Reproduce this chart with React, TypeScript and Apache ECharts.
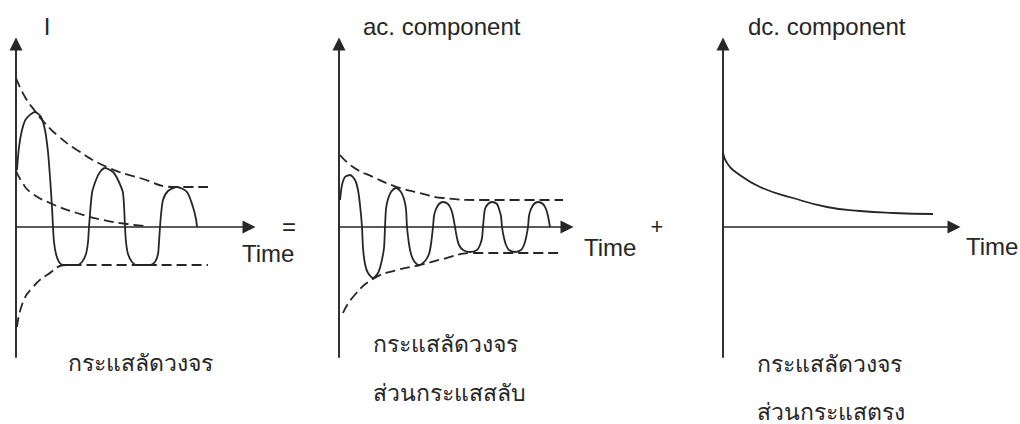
import React, { useEffect, useRef } from "react";
import * as echarts from "echarts";

// Panel 1 – total short-circuit current I (time, current)
const totalCurrent = [
  [1, 57], [3, 80], [6, 97], [10, 108], [19, 115], [25, 110], [29, 97], [32, 75], [34, 50], [36, 20], [37, 0],
  [38, -15], [40, -27], [43, -35], [47, -38], [61, -38], [66, -35], [70, -27], [72, -15], [73, 0],
  [76, 34], [80, 47], [84, 55], [89, 59], [97, 55], [102, 47], [107, 34], [109, 0],
  [110, -15], [112, -27], [116, -35], [121, -38], [134, -38], [139, -35], [142, -27], [143, -15], [144, 0],
  [145, 12], [147, 27], [152, 36], [161, 40], [171, 35], [177, 20], [180, 8], [181, 0],
];
const totalUpperEnvelope = [
  [0, 149], [9, 130], [19, 116], [27, 106], [41, 92], [61, 77], [91, 60], [124, 49], [159, 40], [192, 40],
];
const totalDcOffset = [
  [0, 56], [6, 45], [14, 35], [34, 24], [61, 14], [87, 7], [111, 3], [129, 1],
];
const totalLowerEnvelope = [
  [1, -100], [7, -75], [17, -60], [31, -48], [51, -38], [192, -38],
];

// Panel 2 – ac component
const acCurrent = [
  [1, 27], [3, 42], [6, 50], [11, 52], [16, 47], [19, 37], [21, 22], [23, 0],
  [24, -21], [26, -37], [29, -46], [34, -51], [39, -46], [42, -37], [45, -21], [46, 0],
  [47, 18], [49, 28], [52, 35], [57, 39], [62, 35], [65, 28], [67, 18], [68, 0],
  [70, -17], [72, -27], [75, -34], [80, -38], [86, -34], [90, -27], [92, -17], [94, 0],
  [95, 11], [97, 18], [100, 23], [104, 25], [109, 23], [112, 18], [114, 11], [116, 0],
  [118, -11], [120, -18], [124, -23], [131, -25], [138, -23], [141, -18], [143, -11], [144, 0],
  [145, 11], [146, 18], [149, 23], [153, 25], [158, 23], [160, 18], [162, 11], [163, 0],
  [165, -11], [167, -18], [170, -23], [176, -25], [182, -23], [185, -18], [187, -11], [189, 0],
  [190, 11], [192, 18], [195, 23], [199, 25], [204, 23], [207, 18], [209, 11], [211, 0],
];
const acUpperEnvelope = [
  [1, 72], [14, 60], [34, 50], [58, 40], [81, 34], [104, 29], [144, 27], [224, 27],
];
const acLowerEnvelope = [
  [4, -86], [14, -70], [34, -52], [58, -43], [81, -38], [104, -32], [133, -26], [224, -26],
];

// Panel 3 – dc component
const dcCurrent = [
  [0, 74], [4, 64], [14, 54], [37, 40], [70, 29], [104, 20], [137, 16], [170, 14], [210, 13],
];

// Axis ranges per panel
const timeMax = [233, 228, 231];
const currentMin = -130;
const currentMax = 183;

// Labels
const axisTitles = ["I", "ac. component", "dc. component"];
const timeLabel = "Time";
const panelCaptions = [
  ["กระแสลัดวงจร"],
  ["กระแสลัดวงจร", "ส่วนกระแสสลับ"],
  ["กระแสลัดวงจร", "ส่วนกระแสตรง"],
];

const INK = "#262626";
const FONT = "'Liberation Sans', Arial, 'Noto Sans', sans-serif";

export default function App() {
  const ref = useRef<HTMLDivElement>(null);

  useEffect(() => {
    if (!ref.current) return;
    const chart = echarts.init(ref.current, null, { renderer: "svg" });

    const grids = [
      { left: 16, top: 44, width: 233, height: 313 },
      { left: 339, top: 44, width: 228, height: 313 },
      { left: 723, top: 44, width: 231, height: 313 },
    ];

    const axisLine = {
      show: true,
      onZero: true,
      symbol: ["none", "triangle"],
      symbolSize: [13, 13],
      lineStyle: { color: INK, width: 1.6 },
    };

    const xAxes = grids.map((_, i) => ({
      type: "value",
      gridIndex: i,
      min: 0,
      max: timeMax[i],
      axisLine,
      axisTick: { show: false },
      axisLabel: { show: false },
      splitLine: { show: false },
    }));
    const yAxes = grids.map((_, i) => ({
      type: "value",
      gridIndex: i,
      min: currentMin,
      max: currentMax,
      axisLine: { ...axisLine, lineStyle: { color: INK, width: 1.9 } },
      axisTick: { show: false },
      axisLabel: { show: false },
      splitLine: { show: false },
    }));

    const solid = { color: INK, width: 1.8, type: "solid" };
    const dashed = { color: INK, width: 1.8, type: [10, 5] };
    const mk = (data: number[][], idx: number, style: any, smooth: number) => ({
      type: "line",
      xAxisIndex: idx,
      yAxisIndex: idx,
      data,
      smooth,
      symbol: "none",
      showSymbol: false,
      silent: true,
      lineStyle: style,
    });

    const text = (t: string, x: number, y: number, size: number, align = "left") => ({
      type: "text",
      x,
      y,
      silent: true,
      style: {
        text: t,
        fill: INK,
        fontSize: size,
        fontFamily: FONT,
        textAlign: align,
        textVerticalAlign: "middle",
      },
    });

    const graphics: any[] = [
      text(axisTitles[0], 47, 26, 24, "center"),
      text(axisTitles[1], 363, 26, 24),
      text(axisTitles[2], 748, 26, 24),
      text(timeLabel, 242, 253, 24),
      text(timeLabel, 584, 247, 24),
      text(timeLabel, 966, 246, 24),
      text("=", 289, 226, 24, "center"),
      text("+", 657, 226, 22, "center"),
      text(panelCaptions[0][0], 68, 363, 23),
      text(panelCaptions[1][0], 373, 344, 23),
      text(panelCaptions[1][1], 373, 393, 23),
      text(panelCaptions[2][0], 757, 364, 23),
      text(panelCaptions[2][1], 757, 412, 23),
    ];

    chart.setOption({
      animation: false,
      backgroundColor: "#ffffff",
      grid: grids,
      xAxis: xAxes,
      yAxis: yAxes,
      series: [
        mk(totalCurrent, 0, solid, 0.25),
        mk(totalUpperEnvelope, 0, dashed, 0.5),
        mk(totalDcOffset, 0, dashed, 0.5),
        mk(totalLowerEnvelope, 0, dashed, 0.5),
        mk(acCurrent, 1, solid, 0.25),
        mk(acUpperEnvelope, 1, dashed, 0.5),
        mk(acLowerEnvelope, 1, dashed, 0.5),
        mk(dcCurrent, 2, solid, 0.5),
      ],
      graphic: graphics,
    });

    return () => chart.dispose();
  }, []);

  return (
    <div
      ref={ref}
      style={{ position: "fixed", left: 0, top: 0, width: 1020, height: 424, background: "#fff" }}
    />
  );
}
